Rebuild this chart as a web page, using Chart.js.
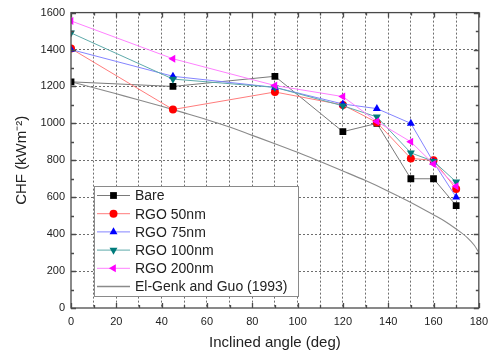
<!DOCTYPE html>
<html>
<head>
<meta charset="utf-8">
<script src="https://cdn.jsdelivr.net/npm/chart.js@4/dist/chart.umd.min.js"></script>
<style>
  html, body { margin: 0; padding: 0; background: #fff; }
  #wrap { width: 495px; height: 358px; position: relative; }
</style>
</head>
<body>
<div id="wrap"><canvas id="c" width="495" height="358"></canvas></div>
<script>
// ---- data ----
const angles = [0, 45, 90, 120, 135, 150, 160, 170];
const bare   = [1225, 1200, 1255, 955, 1000, 700, 700, 555];
const rgo50  = [1405, 1075, 1170, 1100, 1005, 810, 800, 645];
const rgo75  = [1400, 1255, 1195, 1105, 1080, 1000, 790, 600];
const rgo100 = [1490, 1240, 1195, 1095, 1035, 840, 795, 683];
const rgo200 = [1555, 1350, 1205, 1145, 1010, 900, 780, 660];
const corrAngles = [0, 10, 20, 30, 40, 50, 60, 70, 80, 90, 100, 110, 120, 130, 140, 150, 160, 165, 170, 175, 178, 180];
const corrValues = [1225, 1193, 1160, 1127, 1093, 1057, 1020, 980, 935, 890, 843, 793, 742, 690, 633, 572, 505, 470, 428, 380, 340, 300];
const seriesNames = ['Bare', 'RGO 50nm', 'RGO 75nm', 'RGO 100nm', 'RGO 200nm', 'El-Genk and Guo (1993)'];
const xTicks = [0, 20, 40, 60, 80, 100, 120, 140, 160, 180];
const yTicks = [0, 200, 400, 600, 800, 1000, 1200, 1400, 1600];
const xGrid = [10, 20, 30, 40, 50, 60, 70, 80, 90, 100, 110, 120, 130, 140, 150, 160, 170];
const yGrid = [200, 400, 600, 800, 1000, 1200, 1400];

const pts = (xs, ys) => xs.map((x, i) => ({x: x, y: ys[i]}));
const FONT = "'Liberation Sans', Arial, sans-serif";

const styles = [
  {line: '#7a7a7a', mark: '#000000', ps: 'rect', r: 4.8, rot: 0},
  {line: '#ff7c7c', mark: '#ff0000', ps: 'circle', r: 4, rot: 0},
  {line: '#8484ff', mark: '#0000ff', ps: 'triangle', r: 4.6, rot: 0},
  {line: '#5eaaaa', mark: '#007b7b', ps: 'triangle', r: 4.6, rot: 180},
  {line: '#ff80ff', mark: '#ff00ff', ps: 'triangle', r: 4.6, rot: 270},
  {line: '#8a8a8a', mark: null, ps: false, r: 0, rot: 0}
];
const seriesData = [bare, rgo50, rgo75, rgo100, rgo200];

const datasets = seriesData.map((vals, i) => ({
  label: seriesNames[i],
  data: pts(angles, vals),
  borderColor: styles[i].line,
  borderWidth: 1,
  backgroundColor: styles[i].mark,
  pointBackgroundColor: styles[i].mark,
  pointBorderColor: styles[i].mark,
  pointBorderWidth: 0,
  pointStyle: styles[i].ps,
  pointRadius: styles[i].r,
  pointRotation: styles[i].rot,
  tension: 0,
  clip: 0,
  order: 5 - i
}));
datasets.push({
  label: seriesNames[5],
  data: pts(corrAngles, corrValues),
  borderColor: styles[5].line,
  borderWidth: 1.1,
  pointRadius: 0,
  cubicInterpolationMode: 'monotone',
  clip: 0,
  order: 10
});

// grid via Chart.js scale grid options (dotted through border.dash)
const gridColorX = (ctx) => (ctx.tick && xGrid.includes(ctx.tick.value)) ? '#6e6e6e' : 'rgba(0,0,0,0)';
const gridColorY = (ctx) => (ctx.tick && yGrid.includes(ctx.tick.value)) ? '#6e6e6e' : 'rgba(0,0,0,0)';

const framePlugin = {
  id: 'frame',
  afterDraw(chart) {
    const ctx = chart.ctx;
    const a = chart.chartArea;
    const xs = chart.scales.x, ys = chart.scales.y;
    ctx.save();
    ctx.strokeStyle = '#4a4a4a';
    ctx.lineWidth = 1.3;
    ctx.beginPath();
    for (let v = 0; v <= 180; v += 10) {
      const px = Math.round(xs.getPixelForValue(v)) + 0.5;
      const len = v % 20 === 0 ? 5 : 3;
      ctx.moveTo(px, a.bottom); ctx.lineTo(px, a.bottom - len);
      ctx.moveTo(px, a.top); ctx.lineTo(px, a.top + len);
    }
    for (let v = 0; v <= 1600; v += 100) {
      const py = Math.round(ys.getPixelForValue(v)) + 0.5;
      const len = v % 200 === 0 ? 5 : 3;
      ctx.moveTo(a.left, py); ctx.lineTo(a.left + len, py);
      ctx.moveTo(a.right, py); ctx.lineTo(a.right - len, py);
    }
    ctx.stroke();
    ctx.strokeRect(a.left, a.top, a.right - a.left, a.bottom - a.top);

    // legend
    const lx = 94, ly = 186, lw = 204, lh = 110;
    ctx.fillStyle = '#ffffff';
    ctx.fillRect(lx, ly, lw, lh);
    ctx.strokeStyle = '#8a8a8a';
    ctx.lineWidth = 1;
    ctx.strokeRect(lx + 0.5, ly + 0.5, lw, lh);
    ctx.font = '14px ' + FONT;
    ctx.textBaseline = 'middle';
    ctx.textAlign = 'left';
    for (let i = 0; i < seriesNames.length; i++) {
      const cy = 195.5 + i * 18.2;
      ctx.strokeStyle = styles[i].line;
      ctx.lineWidth = i === 5 ? 1.3 : 1;
      ctx.beginPath();
      ctx.moveTo(97, cy); ctx.lineTo(130, cy);
      ctx.stroke();
      if (styles[i].ps) {
        ctx.fillStyle = styles[i].mark;
        ctx.strokeStyle = styles[i].mark;
        Chart.helpers.drawPoint(ctx, {
          pointStyle: styles[i].ps, radius: styles[i].r, rotation: styles[i].rot, borderWidth: 0
        }, 113.5, cy);
      }
      ctx.fillStyle = '#222';
      ctx.fillText(seriesNames[i], 135, cy + 1);
    }
    ctx.restore();
  }
};

new Chart(document.getElementById('c'), {
  type: 'line',
  data: {datasets: datasets},
  options: {
    responsive: false,
    animation: false,
    layout: {padding: {top: 9, right: 15, left: 0, bottom: 0}},
    plugins: {legend: {display: false}, tooltip: {enabled: false}},
    scales: {
      x: {
        type: 'linear', min: 0, max: 180,
        afterFit(s) { s.height = 50; },
        afterBuildTicks(s) { s.ticks = []; for (let v = 0; v <= 180; v += 10) s.ticks.push({value: v}); },
        ticks: {
          autoSkip: false, maxRotation: 0, padding: 7, color: '#222',
          font: {family: FONT, size: 11},
          callback: (v) => xTicks.includes(v) ? String(v) : ''
        },
        grid: {display: true, drawTicks: false, drawOnChartArea: true, color: gridColorX, lineWidth: 1},
        border: {display: false, dash: [2, 2]},
        title: {display: true, text: 'Inclined angle (deg)', color: '#222', font: {family: FONT, size: 15}, padding: 6}
      },
      y: {
        type: 'linear', min: 0, max: 1600,
        afterFit(s) { s.width = 71; },
        afterBuildTicks(s) { s.ticks = []; for (let v = 0; v <= 1600; v += 200) s.ticks.push({value: v}); },
        ticks: {padding: 6, color: '#222', font: {family: FONT, size: 11}, callback: (v) => yTicks.includes(v) ? String(v) : ''},
        grid: {display: true, drawTicks: false, drawOnChartArea: true, color: gridColorY, lineWidth: 1},
        border: {display: false, dash: [2, 2]},
        title: {display: true, text: 'CHF (kWm\u207B\u00B2)', color: '#222', font: {family: FONT, size: 15}, padding: 13}
      }
    }
  },
  plugins: [framePlugin]
});
</script>
</body>
</html>
